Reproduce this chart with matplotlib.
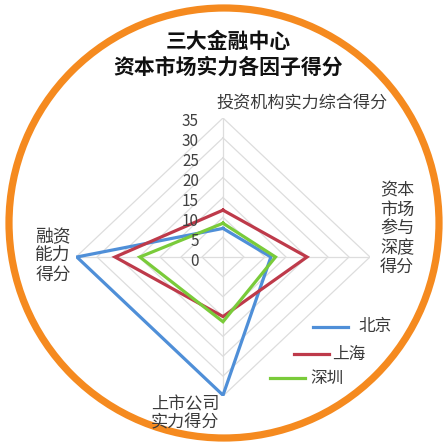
import numpy as np
import matplotlib
matplotlib.use("Agg")
import matplotlib.pyplot as plt
from matplotlib.patches import Circle
from matplotlib.transforms import ScaledTranslation

plt.rcParams['font.family'] = ['Noto Sans CJK SC', 'DejaVu Sans']

# ---- data ----
categories = ["投资机构实力综合得分", "资本市场参与深度得分", "上市公司实力得分", "融资能力得分"]
series_names = ["北京", "上海", "深圳"]
beijing = [7.2, 11.4, 34.8, 34.8]
shanghai = [11.8, 20.0, 15.0, 25.7]
shenzhen = [8.5, 12.5, 16.3, 19.8]
r_ticks = [0, 5, 10, 15, 20, 25, 30, 35]

colors = ["#4F8FD8", "#BE3A4A", "#7ACB3A"]
W = H = 447
fig = plt.figure(figsize=(W / 100, H / 100), dpi=100)
fig.patch.set_facecolor("white")

def px(x, y):
    return x / W, 1 - y / H

# orange circle frame
cx, cy = px(224, 223)
fig.patches.append(Circle((cx, cy), 215 / W, transform=fig.transFigure,
                          fill=False, edgecolor="#F58A1F", linewidth=5.2))

# polar axes
cxp, cyp = 223, 257
rx, ry = 147, 139
ax = fig.add_axes([(cxp - rx) / W, (H - cyp - ry) / H, 2 * rx / W, 2 * ry / H],
                  projection="polar")
ax.set_aspect("auto")
ax.set_theta_zero_location("N")
ax.set_theta_direction(-1)
ax.set_ylim(0, 35)
ax.grid(False)
ax.spines["polar"].set_visible(False)
ax.set_xticks([])
ax.set_yticks([])
ax.patch.set_alpha(0)

n = len(categories)
angles = np.linspace(0, 2 * np.pi, n, endpoint=False)
closed = np.concatenate([angles, angles[:1]])

# polygon grid
for r in r_ticks[1:]:
    ax.plot(closed, [r] * (n + 1), color="#DDDDDD", lw=0.9, zorder=1)
for a in angles:
    ax.plot([a, a], [0, 35], color="#DDDDDD", lw=0.9, zorder=1)

for vals, c in zip([beijing, shanghai, shenzhen], colors):
    v = list(vals) + [vals[0]]
    ax.plot(closed, v, color=c, lw=2.3, zorder=3, solid_joinstyle="miter")

# radial tick labels
off = ScaledTranslation(-24 / 100, -4 / 100, fig.dpi_scale_trans)
for r in r_ticks:
    ax.text(0, r, str(r), transform=ax.transData + off, ha="right", va="center",
            fontsize=11, color="#404040", zorder=4)

# axis category labels
tc = "#3A3A3A"
fig.text(*px(302, 103), "投资机构实力综合得分", ha="center", va="center", fontsize=12.3, color=tc)
fig.text(*px(397, 229), "资本\n市场\n参与\n深度\n得分", ha="center", va="center",
         fontsize=12.3, color=tc, linespacing=1.08)
fig.text(*px(53, 256), "融资\n能力\n得分", ha="center", va="center",
         fontsize=12.8, color=tc, linespacing=1.08)
fig.text(*px(185, 413), "上市公司\n实力得分", ha="center", va="center",
         fontsize=12.3, color=tc, linespacing=1.0)

# title
fig.text(*px(228, 42), "三大金融中心", ha="center", va="center", fontsize=15,
         fontweight="bold", color="#111111")
fig.text(*px(228, 67), "资本市场实力各因子得分", ha="center", va="center", fontsize=15,
         fontweight="bold", color="#111111")

# legend (staggered along the circle)
leg_pos = [((313, 348, 327), (358, 327)),
           ((294, 329, 354), (332, 354)),
           ((270, 305, 378), (310, 378))]
for name, c, ((x0, x1, yl), (xt, yt)) in zip(series_names, colors, leg_pos):
    fig.add_artist(plt.Line2D([x0 / W, x1 / W], [1 - yl / H, 1 - yl / H],
                              transform=fig.transFigure, color=c, lw=2.3))
    fig.text(*px(xt, yt), name, ha="left", va="center", fontsize=12, color=tc)

fig.savefig("out.png", dpi=100, facecolor="white")
